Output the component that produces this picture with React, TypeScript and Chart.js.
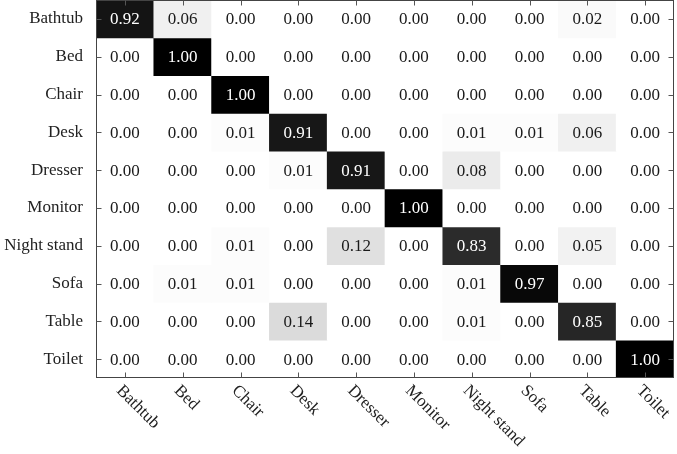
import React, { useEffect, useRef } from "react";
import { Chart, registerables } from "chart.js";

Chart.register(...registerables);

const classes = ["Bathtub", "Bed", "Chair", "Desk", "Dresser", "Monitor", "Night stand", "Sofa", "Table", "Toilet"];

const rowBathtub = [0.92, 0.06, 0.0, 0.0, 0.0, 0.0, 0.0, 0.0, 0.02, 0.0];
const rowBed = [0.0, 1.0, 0.0, 0.0, 0.0, 0.0, 0.0, 0.0, 0.0, 0.0];
const rowChair = [0.0, 0.0, 1.0, 0.0, 0.0, 0.0, 0.0, 0.0, 0.0, 0.0];
const rowDesk = [0.0, 0.0, 0.01, 0.91, 0.0, 0.0, 0.01, 0.01, 0.06, 0.0];
const rowDresser = [0.0, 0.0, 0.0, 0.01, 0.91, 0.0, 0.08, 0.0, 0.0, 0.0];
const rowMonitor = [0.0, 0.0, 0.0, 0.0, 0.0, 1.0, 0.0, 0.0, 0.0, 0.0];
const rowNightStand = [0.0, 0.0, 0.01, 0.0, 0.12, 0.0, 0.83, 0.0, 0.05, 0.0];
const rowSofa = [0.0, 0.01, 0.01, 0.0, 0.0, 0.0, 0.01, 0.97, 0.0, 0.0];
const rowTable = [0.0, 0.0, 0.0, 0.14, 0.0, 0.0, 0.01, 0.0, 0.85, 0.0];
const rowToilet = [0.0, 0.0, 0.0, 0.0, 0.0, 0.0, 0.0, 0.0, 0.0, 1.0];

const matrix = [rowBathtub, rowBed, rowChair, rowDesk, rowDresser, rowMonitor, rowNightStand, rowSofa, rowTable, rowToilet];

const FONT = '"Liberation Serif", "Times New Roman", "DejaVu Serif", serif';

function grey(v: number) {
  const c = Math.round(255 * (1 - v));
  return `rgb(${c},${c},${c})`;
}

const overlayPlugin = {
  id: "overlay",
  afterDatasetsDraw(chart: any) {
    const { ctx, chartArea, scales } = chart;
    const xs = scales.x;
    const ys = scales.y;
    ctx.save();
    ctx.font = `17px ${FONT}`;
    ctx.textAlign = "center";
    ctx.textBaseline = "middle";
    matrix.forEach((row, i) => {
      row.forEach((v, j) => {
        const px = xs.getPixelForValue(j);
        const py = ys.getPixelForValue(i);
        ctx.fillStyle = v > 0.5 ? "#ffffff" : "#1a1a1a";
        ctx.fillText(v.toFixed(2), px, py + 1);
      });
    });
    ctx.strokeStyle = "#444";
    ctx.lineWidth = 1;
    const l = Math.round(chartArea.left) + 0.5;
    const r = Math.round(chartArea.right) - 0.5;
    const t = Math.round(chartArea.top) + 0.5;
    const b = Math.round(chartArea.bottom) - 0.5;
    ctx.strokeRect(l, t, r - l, b - t);
    ctx.strokeStyle = "#555";
    const tl = 5;
    ctx.beginPath();
    classes.forEach((_, j) => {
      const px = Math.round(xs.getPixelForValue(j)) + 0.5;
      ctx.moveTo(px, t);
      ctx.lineTo(px, t + tl);
      ctx.moveTo(px, b);
      ctx.lineTo(px, b - tl);
    });
    classes.forEach((_, i) => {
      const py = Math.round(ys.getPixelForValue(i)) + 0.5;
      ctx.moveTo(l, py);
      ctx.lineTo(l + tl, py);
      ctx.moveTo(r, py);
      ctx.lineTo(r - tl, py);
    });
    ctx.stroke();
    ctx.fillStyle = "#222";
    ctx.font = `17px ${FONT}`;
    ctx.textAlign = "left";
    ctx.textBaseline = "top";
    classes.forEach((name, j) => {
      const px = xs.getPixelForValue(j);
      ctx.save();
      ctx.translate(px, chartArea.bottom + 4);
      ctx.rotate(Math.PI / 4);
      ctx.fillText(name, 0, 0);
      ctx.restore();
    });
    ctx.restore();
  },
};

export default function App() {
  const ref = useRef<HTMLCanvasElement>(null);
  useEffect(() => {
    if (!ref.current) return;
    const datasets = matrix.map((row, i) => ({
      label: classes[i],
      data: row.map(() => [i - 0.5, i + 0.5]),
      backgroundColor: row.map((v) => grey(v)),
      borderWidth: 0,
      grouped: false,
      barPercentage: 1,
      categoryPercentage: 1,
    }));
    const chart = new Chart(ref.current, {
      type: "bar",
      data: { labels: classes, datasets: datasets as any },
      plugins: [overlayPlugin],
      options: {
        animation: false,
        responsive: true,
        maintainAspectRatio: false,
        layout: { padding: { top: 0, right: 3, left: 0, bottom: 0 } },
        plugins: { legend: { display: false }, tooltip: { enabled: false } },
        scales: {
          x: {
            type: "category",
            grid: { display: false },
            border: { display: false },
            ticks: { display: false },
            afterFit: (s: any) => {
              s.height = 76;
              s.paddingLeft = 0;
              s.paddingRight = 0;
            },
          },
          y: {
            type: "linear",
            reverse: true,
            min: -0.5,
            max: 9.5,
            grid: { display: false, drawTicks: false },
            border: { display: false },
            afterBuildTicks: (s: any) => {
              s.ticks = classes.map((_, i) => ({ value: i }));
            },
            ticks: {
              padding: 13,
              color: "#222",
              font: { family: FONT, size: 17 },
              callback: (v: any) => classes[v as number] ?? "",
            },
            afterFit: (s: any) => {
              s.width = 96;
              s.paddingTop = 0;
              s.paddingBottom = 0;
            },
          },
        },
      },
    });
    let alive = true;
    const fonts = (document as any).fonts;
    if (fonts && fonts.load) {
      Promise.all([fonts.load(`17px "Liberation Serif"`), fonts.ready]).then(() => {
        if (alive) chart.update();
      });
    }
    return () => {
      alive = false;
      chart.destroy();
    };
  }, []);
  return (
    <div style={{ position: "fixed", left: 0, top: 0, width: 677, height: 454, background: "#fff" }}>
      <canvas ref={ref} />
    </div>
  );
}
